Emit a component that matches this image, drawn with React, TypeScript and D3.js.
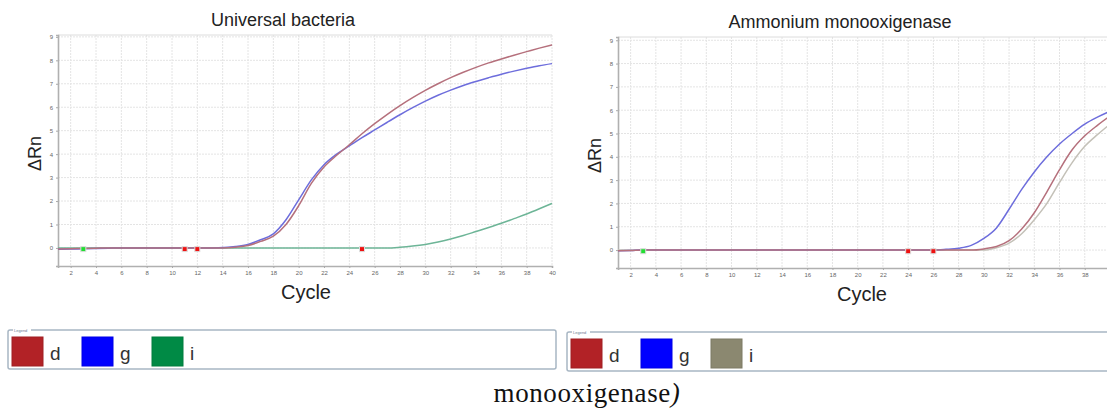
import React, { useEffect, useRef } from "react"
import * as d3 from "d3"

// cycle numbers on the x axis
const cycles = [1, 2, 3, 4, 5, 6, 7, 8, 9, 10, 11, 12, 13, 14, 15, 16, 17, 18, 19, 20,
  21, 22, 23, 24, 25, 26, 27, 28, 29, 30, 31, 32, 33, 34, 35, 36, 37, 38, 39, 40]

// Universal bacteria (ΔRn per cycle)
const bactD = [-0.04, -0.03, -0.02, -0.01, 0, 0, 0, 0, 0, 0, 0, 0, 0, 0, 0.03, 0.1, 0.28, 0.5, 1.0, 1.8,
  2.75, 3.45, 3.95, 4.4, 4.87, 5.3, 5.7, 6.07, 6.41, 6.72, 7.0, 7.26, 7.49, 7.7, 7.89, 8.06, 8.22, 8.37, 8.52, 8.66]
const bactG = [-0.06, -0.05, -0.03, -0.02, -0.01, 0, 0, 0, 0, 0, 0, 0, 0, 0.02, 0.06, 0.15, 0.35, 0.6, 1.2, 2.05,
  2.9, 3.55, 4.0, 4.35, 4.7, 5.03, 5.36, 5.68, 5.98, 6.26, 6.51, 6.73, 6.93, 7.1, 7.26, 7.41, 7.54, 7.66, 7.77, 7.86]
const bactI = [0, 0, 0, 0, 0, 0, 0, 0, 0, 0, 0, 0, 0, 0, 0, 0, 0, 0, 0, 0,
  0, 0, 0, 0, 0, 0, 0, 0.03, 0.08, 0.15, 0.25, 0.38, 0.53, 0.7, 0.87, 1.05, 1.25, 1.45, 1.67, 1.9]

// Ammonium monooxigenase
const amoD = [-0.03, -0.02, 0, 0, 0, 0, 0, 0, 0, 0, 0, 0, 0, 0, 0, 0, 0, 0, 0, 0,
  0, 0, 0, 0, 0, 0, 0, 0, 0, 0.05, 0.15, 0.4, 0.9, 1.6, 2.5, 3.45, 4.3, 4.9, 5.35, 5.75]
const amoG = [-0.03, -0.02, 0, 0, 0, 0, 0, 0, 0, 0, 0, 0, 0, 0, 0, 0, 0, 0, 0, 0,
  0, 0, 0, 0, 0, 0, 0.03, 0.08, 0.2, 0.5, 0.95, 1.75, 2.6, 3.35, 4.0, 4.55, 5.0, 5.4, 5.7, 5.95]
const amoI = [0, 0, 0, 0, 0, 0, 0, 0, 0, 0, 0, 0, 0, 0, 0, 0, 0, 0, 0, 0,
  0, 0, 0, 0, 0, 0, 0, 0, 0, 0, 0.1, 0.3, 0.7, 1.3, 2.0, 2.9, 3.75, 4.45, 4.95, 5.4]

// threshold / baseline marks
const bactMarkCycles = [3, 11, 12, 25]
const bactMarkKinds = ["base", "ct", "ct", "ct"]
const amoMarkCycles = [3, 24, 26]
const amoMarkKinds = ["base", "ct", "ct"]

const xTicks = [2, 4, 6, 8, 10, 12, 14, 16, 18, 20, 22, 24, 26, 28, 30, 32, 34, 36, 38, 40]
const yTicks = [0, 1, 2, 3, 4, 5, 6, 7, 8, 9]
const legendNames = ["d", "g", "i"]

const FONT = "Arial, 'Liberation Sans', sans-serif"

type Panel = {
  title: string
  series: number[][]
  lineColors: string[]
  swatches: string[]
  marks: number[]
  markKinds: string[]
  left: number
  right: number
  top: number
  bottom: number
  yMax: number
  titleX: number
  cycleX: number
  legendX: number
  legendW: number
  legendY: number
}

export default function App() {
  const ref = useRef<SVGSVGElement>(null)

  useEffect(() => {
    const svg = d3.select(ref.current)
    svg.selectAll("*").remove()

    const panels: Panel[] = [
      {
        title: "Universal bacteria", series: [bactD, bactG, bactI],
        lineColors: ["#b5707c", "#6d6ddc", "#6db597"],
        swatches: ["#b22226", "#0000ff", "#008a45"],
        marks: bactMarkCycles, markKinds: bactMarkKinds,
        left: 58, right: 552, top: 35, bottom: 266, yMax: 9.08,
        titleX: 283, cycleX: 306,
        legendX: 8, legendW: 548, legendY: 330,
      },
      {
        title: "Ammonium monooxigenase", series: [amoD, amoG, amoI],
        lineColors: ["#b5707c", "#6d6ddc", "#c4c1b8"],
        swatches: ["#b22226", "#0000ff", "#8b8870"],
        marks: amoMarkCycles, markKinds: amoMarkKinds,
        left: 618, right: 1110, top: 37, bottom: 268, yMax: 9.14,
        titleX: 840, cycleX: 862,
        legendX: 567, legendW: 560, legendY: 332,
      },
    ]

    panels.forEach((p, pi) => {
      const x = d3.scaleLinear().domain([1, 40]).range([p.left, p.right])
      const y = d3.scaleLinear().domain([-0.77, p.yMax]).range([p.bottom, p.top])
      const g = svg.append("g")

      // grid
      g.selectAll("line.vg").data(xTicks).join("line")
        .attr("x1", d => x(d)).attr("x2", d => x(d))
        .attr("y1", p.top).attr("y2", p.bottom)
        .attr("stroke", "#e4e4e4").attr("stroke-dasharray", "2,1")
      g.selectAll("line.hg").data(yTicks).join("line")
        .attr("x1", p.left).attr("x2", p.right)
        .attr("y1", d => y(d)).attr("y2", d => y(d))
        .attr("stroke", "#e4e4e4").attr("stroke-dasharray", "2,1")
      g.append("line").attr("x1", p.left).attr("x2", p.right)
        .attr("y1", p.top).attr("y2", p.top).attr("stroke", "#dcdcdc")

      // axes (last label on the right panel falls off the page)
      const shown = pi === 0 ? xTicks : xTicks.filter(t => x(t) < 1100)
      const xa = g.append("g").attr("transform", `translate(0,${p.bottom})`)
        .call(d3.axisBottom(x).tickValues(shown).tickSize(2).tickPadding(3))
      const ya = g.append("g").attr("transform", `translate(${p.left},0)`)
        .call(d3.axisLeft(y).tickValues(yTicks).tickSize(2).tickPadding(3))
      ;[xa, ya].forEach(a => {
        a.select(".domain").attr("stroke", "#b0b0b0").attr("stroke-width", 1.6)
        a.selectAll(".tick line").attr("stroke", "#aaa")
        a.selectAll(".tick text").attr("fill", "#666").style("font-size", "6px").style("font-family", FONT)
      })

      // curves
      const line = d3.line<number>()
        .x((_, i) => x(cycles[i]))
        .y(d => y(d))
        .curve(d3.curveMonotoneX)
      ;[2, 1, 0].forEach(k => {
        g.append("path").datum(p.series[k]).attr("d", line)
          .attr("fill", "none").attr("stroke", p.lineColors[k]).attr("stroke-width", 1.5)
      })

      // marks
      g.selectAll("rect.mk").data(p.marks).join("rect")
        .attr("x", d => x(d) - 2.5).attr("y", y(-0.05) - 2.5)
        .attr("width", 5).attr("height", 5)
        .attr("fill", (_, i) => p.markKinds[i] === "base" ? "#22dd33" : "#ee1111")
        .attr("stroke", "#dddddd").attr("stroke-width", 1)

      // titles
      g.append("text").attr("x", p.titleX).attr("y", p.top - 9)
        .attr("text-anchor", "middle").style("font-family", FONT).style("font-size", "18px")
        .attr("fill", "#222").text(p.title)
      g.append("text").attr("x", p.cycleX).attr("y", p.bottom + 33)
        .attr("text-anchor", "middle").style("font-family", FONT).style("font-size", "20px")
        .attr("fill", "#222").text("Cycle")
      g.append("text")
        .attr("transform", `translate(${p.left - 17},${(p.top + p.bottom) / 2 + 3}) rotate(-90)`)
        .attr("text-anchor", "middle").style("font-family", FONT).style("font-size", "18px")
        .attr("fill", "#222").text("ΔRn")

      // legend box
      const lg = g.append("g").attr("transform", `translate(${p.legendX},${p.legendY})`)
      lg.append("rect").attr("width", p.legendW).attr("height", 39).attr("rx", 2)
        .attr("fill", "#fff").attr("stroke", "#a8b6c4").attr("stroke-width", 1.5)
      lg.append("rect").attr("x", 5).attr("y", -2).attr("width", 18).attr("height", 4).attr("fill", "#fff")
      lg.append("text").attr("x", 6).attr("y", 1.5).style("font-size", "4px")
        .style("font-family", FONT).attr("fill", "#6a7a90").text("Legend")
      legendNames.forEach((n, i) => {
        lg.append("rect").attr("x", 4 + i * 70).attr("y", 7).attr("width", 31).attr("height", 29)
          .attr("fill", p.swatches[i]).attr("stroke", d3.color(p.swatches[i])!.darker(0.3).toString())
        lg.append("text").attr("x", 42 + i * 70).attr("y", 30)
          .style("font-family", FONT).style("font-size", "19px").attr("fill", "#333").text(n)
      })
    })

    // caption
    const cap = svg.append("text").attr("x", 587).attr("y", 402).attr("text-anchor", "middle")
      .style("font-family", "'Liberation Serif', 'Times New Roman', serif").style("font-size", "27px")
      .style("letter-spacing", "0.6px").attr("fill", "#111")
    cap.append("tspan").text("monooxigenase")
    cap.append("tspan").style("font-style", "italic").text(")")
  }, [])

  return (
    <svg ref={ref} width={1107} height={408}
      style={{ position: "absolute", left: 0, top: 0, background: "#fff" }} />
  )
}
